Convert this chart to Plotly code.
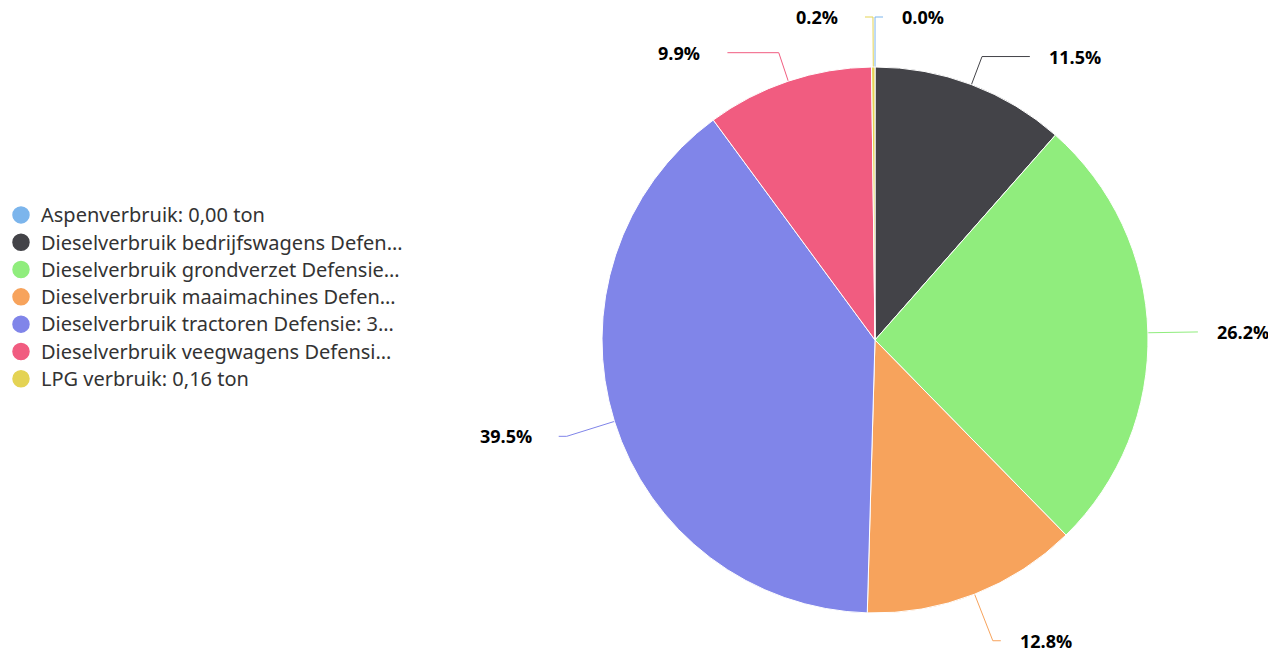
import math
import plotly.graph_objects as go

W, H = 1276, 650

# legend names as shown (truncated in the original)
labels = [
    "Aspenverbruik: 0,00 ton",
    "Dieselverbruik bedrijfswagens Defen…",
    "Dieselverbruik grondverzet Defensie…",
    "Dieselverbruik maaimachines Defen…",
    "Dieselverbruik tractoren Defensie: 3…",
    "Dieselverbruik veegwagens Defensi…",
    "LPG verbruik: 0,16 ton",
]
# tonnes, estimated from the slice percentages (LPG 0.16 t = 0.2%)
values = [0.002, 9.2, 20.96, 10.24, 31.6, 7.92, 0.16]
colors = ["#7cb5ec", "#434348", "#90ed7d", "#f7a35c", "#8085e9", "#f15c80", "#e4d354"]

# pie placement in figure pixels
cx, cy, r = 867, 332, 273

fig = go.Figure()
fig.add_trace(go.Pie(
    labels=labels,
    values=values,
    sort=False,
    direction="clockwise",
    rotation=0,
    marker=dict(colors=colors, line=dict(color="white", width=1)),
    textinfo="none",
    showlegend=False,
    domain=dict(x=[(cx - r) / W, (cx + r) / W], y=[1 - (cy + r) / H, 1 - (cy - r) / H]),
    hoverinfo="label+percent",
))

# data labels with crooked connectors (highcharts style)
total = sum(values)
cum = 0.0
annotations = []
for v, c in zip(values, colors):
    share = v / total
    a = 2 * math.pi * (cum + share / 2)
    cum += share
    s, co = math.sin(a), math.cos(a)
    ry = r + 30 if (co > 0 and share >= 0.01) else r + 50
    ex, ey = cx + r * s, cy - r * co
    bx, by = cx + ry * s, cy - ry * co
    side = 1 if s >= 0 else -1
    rc = r + 50
    h = math.sqrt(max(rc ** 2 - (by - cy) ** 2, 0))
    endx = cx + side * h
    if side * (endx - bx) < 8:
        endx = bx + side * 8
    fig.add_trace(go.Scatter(
        x=[ex, bx, endx], y=[ey, by, by], mode="lines",
        line=dict(color=c, width=1), showlegend=False, hoverinfo="skip",
    ))
    annotations.append(dict(
        x=endx + side * (17 if side > 0 else 25), y=by, xref="x", yref="y",
        text="<b>%.1f%%</b>" % (share * 100), showarrow=False,
        xanchor="left" if side > 0 else "right", yanchor="middle",
        font=dict(family="Open Sans", size=18, color="black"),
    ))

# circle legend entries like the original
for name, c in zip(labels, colors):
    fig.add_trace(go.Scatter(
        x=[None], y=[None], mode="markers",
        name='<span style="font-size:20px">%s</span>' % name,
        marker=dict(color=c, size=17, symbol="circle", line=dict(color=c, width=1.5)),
    ))

fig.update_layout(
    width=W, height=H,
    margin=dict(l=0, r=0, t=0, b=0, autoexpand=False),
    paper_bgcolor="white", plot_bgcolor="white",
    xaxis=dict(visible=False, range=[0, W], fixedrange=True),
    yaxis=dict(visible=False, range=[H, 0], fixedrange=True),
    annotations=annotations,
    legend=dict(
        x=-0.0055, y=0.555, xanchor="left", yanchor="middle",
        font=dict(family="Noto Sans", size=18.7, color="#333333"),
        tracegroupgap=0,
    ),
)
fig.write_html("out.html")
